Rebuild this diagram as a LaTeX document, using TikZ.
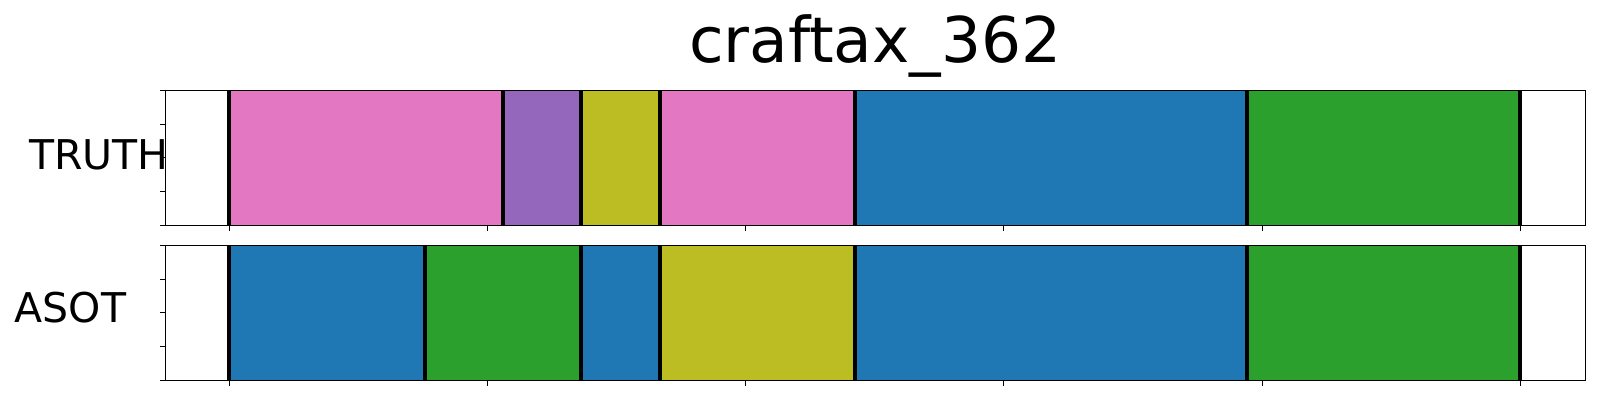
\documentclass[tikz,border=0pt]{standalone}
\usepackage{fontspec}
\setmainfont{DejaVu Sans}
\definecolor{tpink}{HTML}{E377C2}
\definecolor{tpurple}{HTML}{9467BD}
\definecolor{tolive}{HTML}{BCBD22}
\definecolor{tblue}{HTML}{1F77B4}
\definecolor{tgreen}{HTML}{2CA02C}
\tikzset{
  seg/.style={draw=none},
  bound/.style={line width=3.7pt, black},
  frame/.style={line width=1.1pt, black},
  tickmark/.style={line width=1pt, black},
  lbl/.style={inner sep=0pt, anchor=base west}
}
\begin{document}
\begin{tikzpicture}[x=1pt,y=-1pt]
\useasboundingbox (0,0) rectangle (1600,400);
% top axes: y 90.3 .. 225.3 ; bottom axes: y 245.3 .. 380.3
\def\L{165.3}\def\R{1585.3}
% TRUTH segments
\fill[tpink]   (229.2,90.3) rectangle (502.8,225.3);
\fill[tpurple] (502.8,90.3) rectangle (581,225.3);
\fill[tolive]  (581,90.3) rectangle (660,225.3);
\fill[tpink]   (660,90.3) rectangle (854.7,225.3);
\fill[tblue]   (854.7,90.3) rectangle (1246.7,225.3);
\fill[tgreen]  (1246.7,90.3) rectangle (1520,225.3);
% ASOT segments
\fill[tblue]   (229.2,245.3) rectangle (424.8,380.3);
\fill[tgreen]  (424.8,245.3) rectangle (581,380.3);
\fill[tblue]   (581,245.3) rectangle (660,380.3);
\fill[tolive]  (660,245.3) rectangle (854.7,380.3);
\fill[tblue]   (854.7,245.3) rectangle (1246.7,380.3);
\fill[tgreen]  (1246.7,245.3) rectangle (1520,380.3);
% boundaries
\foreach \x in {229.2,502.8,581,660,854.7,1246.7,1520}
  \draw[bound] (\x,90.3) -- (\x,225.3);
\foreach \x in {229.2,424.8,581,660,854.7,1246.7,1520}
  \draw[bound] (\x,245.3) -- (\x,380.3);
% frames
\draw[frame] (\L,90.3) rectangle (\R,225.3);
\draw[frame] (\L,245.3) rectangle (\R,380.3);
% x ticks
\foreach \x in {229.3,487.5,745.7,1003.8,1262,1520.2}{
  \draw[tickmark] (\x,225.3) -- (\x,230.5);
  \draw[tickmark] (\x,380.3) -- (\x,385.5);
}
% y ticks
\foreach \i in {0,...,4}{
  \draw[tickmark] (\L,90.3+33.75*\i) -- (\L-5.2,90.3+33.75*\i);
  \draw[tickmark] (\L,245.3+33.75*\i) -- (\L-5.2,245.3+33.75*\i);
}
% labels
\node[inner sep=0pt, anchor=base] (title) at (875.3,62.7) {\fontsize{63}{63}\selectfont craftax\_362};
\node[lbl] (truth) at (29,169.3) {\fontsize{41}{41}\selectfont TRUTH};
\node[lbl] (asot) at (14.5,322.7) {\fontsize{41}{41}\selectfont ASOT};
\end{tikzpicture}
\end{document}
